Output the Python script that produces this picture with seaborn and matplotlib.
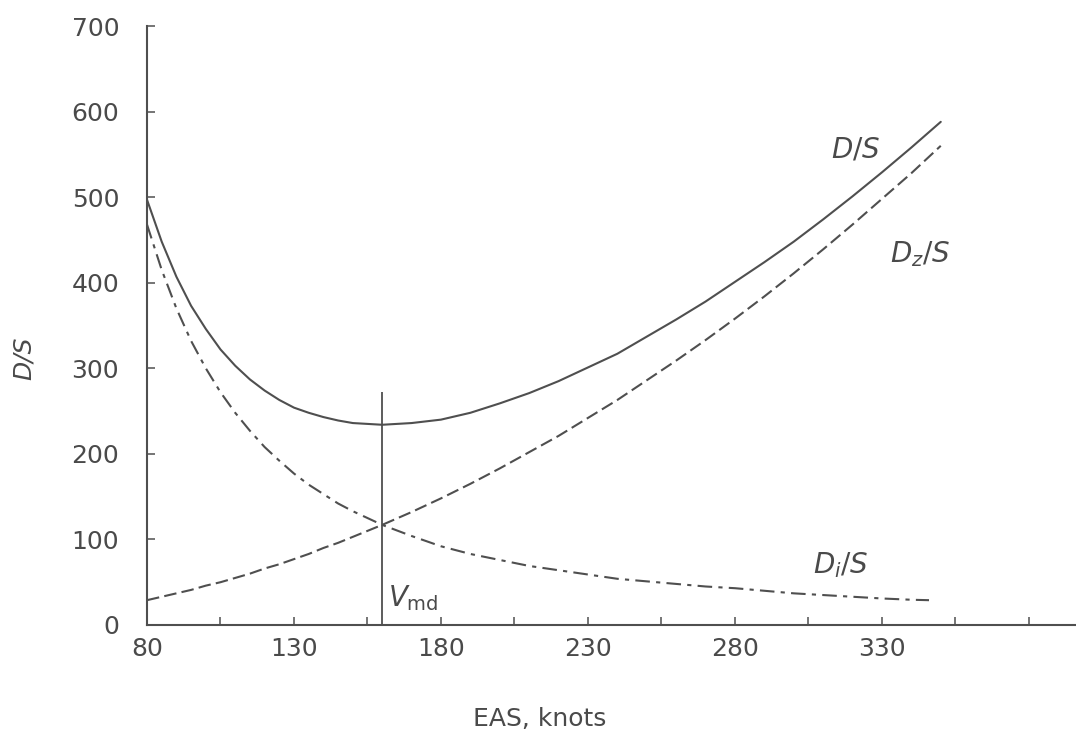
"""
Curva de arrasto D/S vs EAS (drag total, zero-lift e induzido) com V_md.
"""
import numpy as np
import pandas as pd
import matplotlib
matplotlib.use('Agg')
import matplotlib.pyplot as plt
import seaborn as sns
from matplotlib.ticker import FixedLocator

# valores
eas = [80, 85, 90, 95, 100, 105, 110, 115, 120, 125, 130, 135, 140, 145, 150,
       160, 170, 180, 190, 200, 210, 220, 230, 240, 250, 260, 270, 280, 290,
       300, 310, 320, 330, 340, 350]
d_total = [497, 448, 407, 373, 346, 322, 303, 287, 274, 263, 254, 248, 243, 239, 236,
           234, 236, 240, 248, 259, 271, 285, 301, 317, 337, 357, 378, 401, 424,
           448, 474, 501, 529, 558, 588]
d_zero = [29, 33, 37, 41, 46, 50, 55, 60, 66, 71, 77, 83, 90, 96, 103,
          117, 132, 148, 165, 183, 202, 221, 242, 263, 286, 309, 333, 358, 384,
          411, 439, 468, 498, 528, 560]
eas_i = [80, 85, 90, 95, 100, 105, 110, 115, 120, 125, 130, 135, 140, 145, 150,
         160, 170, 180, 190, 200, 210, 220, 230, 240, 250, 260, 270, 280, 290,
         300, 310, 320, 330, 340, 346]
d_induced = [468, 415, 370, 332, 300, 272, 248, 227, 208, 192, 177, 164, 153, 142, 133,
             117, 104, 92, 83, 76, 69, 64, 59, 54, 51, 48, 45, 43, 40,
             37, 35, 33, 31, 29.5, 29]

v_md = 160
v_md_top = 272

x_labels = [80, 130, 180, 230, 280, 330]
x_minor = [105, 155, 205, 255, 305, 355, 380]
y_ticks = [0, 100, 200, 300, 400, 500, 600, 700]

df = pd.DataFrame({'eas': eas, 'total': d_total, 'zero': d_zero})
df_i = pd.DataFrame({'eas': eas_i, 'induced': d_induced})

sns.set_style('ticks')
plt.rcParams['font.family'] = ['DejaVu Sans']
plt.rcParams['mathtext.fontset'] = 'dejavusans'

grey = '#4f4f4f'
txt = '#4a4a4a'
fig = plt.figure(figsize=(10.76, 7.44), dpi=100)
ax = fig.add_axes([147 / 1076, 119 / 744, 929 / 1076, 599 / 744])

sns.lineplot(data=df, x='eas', y='total', ax=ax, color=grey, lw=1.5)
sns.lineplot(data=df, x='eas', y='zero', ax=ax, color=grey, lw=1.5,
             linestyle=(0, (6, 2.5)))
sns.lineplot(data=df_i, x='eas', y='induced', ax=ax, color=grey, lw=1.5,
             linestyle=(0, (7, 3, 2, 3)))
ax.vlines(v_md, 0, v_md_top, color=grey, lw=1.3)

ax.set_xlim(80, 396)
ax.set_ylim(0, 700)
ax.xaxis.set_major_locator(FixedLocator(x_labels))
ax.xaxis.set_minor_locator(FixedLocator(x_minor))
ax.yaxis.set_major_locator(FixedLocator(y_ticks))
ax.tick_params(axis='both', which='both', direction='in', length=6, width=1.1,
               color=grey, labelcolor=txt, labelsize=18)
ax.tick_params(axis='y', pad=20)
ax.tick_params(axis='x', pad=9)

sns.despine(ax=ax)
for s in ['left', 'bottom']:
    ax.spines[s].set_color(grey)
    ax.spines[s].set_linewidth(1.5)

ax.set_xlabel('EAS, knots', fontsize=18, color=txt)
ax.xaxis.set_label_coords(0.423, -0.137)
ax.set_ylabel('')
fig.text(24 / 1076, 1 - 358 / 744, 'D/S', fontsize=18, color=txt, fontstyle='italic',
         rotation=90, ha='center', va='center')

ax.text(321, 556, '$D/S$', fontsize=20, color=txt, ha='center', va='center')
ax.text(343, 433, '$D_z/S$', fontsize=20, color=txt, ha='center', va='center')
ax.text(316, 70, '$D_i/S$', fontsize=20, color=txt, ha='center', va='center')
ax.text(162, 31, r'$V_{\rm md}$', fontsize=20, color=txt, ha='left', va='center')

plt.savefig('out.png', dpi=100)
plt.close()
